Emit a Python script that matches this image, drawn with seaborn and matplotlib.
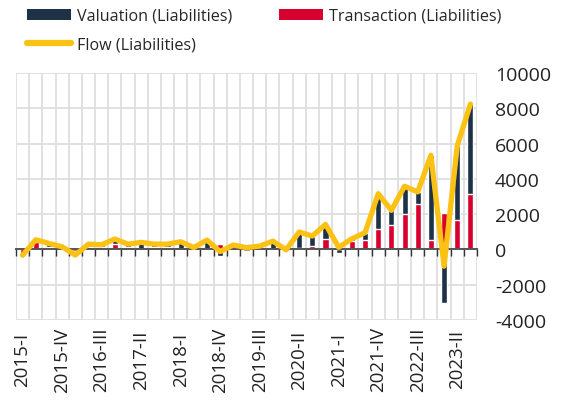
import numpy as np
import pandas as pd
import matplotlib
matplotlib.use("Agg")
import matplotlib.pyplot as plt
import seaborn as sns
from matplotlib.patches import Patch
from matplotlib.lines import Line2D

quarters = [
    "2015-I", "2015-II", "2015-III", "2015-IV",
    "2016-I", "2016-II", "2016-III", "2016-IV",
    "2017-I", "2017-II", "2017-III", "2017-IV",
    "2018-I", "2018-II", "2018-III", "2018-IV",
    "2019-I", "2019-II", "2019-III", "2019-IV",
    "2020-I", "2020-II", "2020-III", "2020-IV",
    "2021-I", "2021-II", "2021-III", "2021-IV",
    "2022-I", "2022-II", "2022-III", "2022-IV",
    "2023-I", "2023-II", "2023-III",
]
valuation = [-150, 150, 190, 70, -210, 150, 155, 290, 190, 350, 190, 190,
             405, 80, 490, -400, 170, -80, 130, 420, -100, 890, 570, 820,
             -230, 150, 400, 2025, 835, 1550, 665, 4830, -3030, 4205, 5095]
transaction = [-180, 400, 150, 80, -110, 150, 110, 300, 110, 50, 110, 110,
               30, 30, 40, 280, 80, 180, 60, 50, 80, 95, 190, 600,
               350, 455, 550, 1135, 1380, 2030, 2595, 510, 2080, 1665, 3145]
flow = [-330, 550, 340, 150, -320, 300, 265, 590, 300, 400, 300, 300,
        435, 110, 530, -120, 250, 100, 190, 470, -20, 985, 760, 1420,
        120, 605, 950, 3160, 2215, 3580, 3260, 5340, -950, 5870, 8240]
y_ticks = [-4000, -2000, 0, 2000, 4000, 6000, 8000, 10000]

NAVY = "#1d3247"
RED = "#d8002f"
YELLOW = "#fbc213"
GRID = "#dedede"

sns.set_theme(style="white")
plt.rcParams["font.family"] = ["Open Sans", "DejaVu Sans"]

W, H = 563, 406
fig = plt.figure(figsize=(W / 100, H / 100), dpi=100)
ax = fig.add_axes([16 / W, 85 / H, 461 / W, 247 / H])

df = pd.DataFrame({"quarter": quarters, "valuation": valuation,
                   "transaction": transaction, "flow": flow})
same = np.sign(df["valuation"]) == np.sign(df["transaction"])
df["val_top"] = np.where(same, df["valuation"] + df["transaction"], df["valuation"])
df["pos"] = np.arange(len(df))

sns.barplot(data=df, x="pos", y="val_top", color=NAVY, width=0.46,
            saturation=1, ax=ax, zorder=2, native_scale=True)
sns.barplot(data=df, x="pos", y="transaction", color=RED, width=0.46,
            saturation=1, ax=ax, zorder=2, native_scale=True)
sns.lineplot(data=df, x="pos", y="flow", color=YELLOW, lw=3.8, ax=ax,
             zorder=5, sort=False)

n = len(quarters)
ax.set_xlim(-0.5, n - 0.5)
ax.set_ylim(y_ticks[0], y_ticks[-1])

# vertical grid at category boundaries
ax.vlines(np.arange(-0.5, n, 1), y_ticks[0], y_ticks[-1], colors=GRID,
          lw=1.3, zorder=1)

ax.set_xticks(range(0, n, 3))
ax.set_xticklabels(quarters[::3], rotation=90, va="center", fontsize=13.5,
                   color="#222222")
ax.set_yticks(y_ticks)
ax.set_yticklabels([str(v) for v in y_ticks], fontsize=14, color="#222222")
ax.yaxis.tick_right()
ax.tick_params(axis="y", length=0, pad=13)
ax.tick_params(axis="x", which="both", length=0, pad=28)
ax.grid(False)
ax.grid(which="major", axis="y", color=GRID, lw=1.3, zorder=0)
ax.set_axisbelow(True)
for s in ax.spines.values():
    s.set_visible(False)
ax.set_xlabel("")
ax.set_ylabel("")

# zero axis line with category boundary ticks
zero_pos = (0 - y_ticks[0]) / (y_ticks[-1] - y_ticks[0])
sec = ax.secondary_xaxis(zero_pos)
sec.set_xticks(np.arange(-0.5, n, 1))
sec.set_xticklabels([])
sec.tick_params(axis="x", length=5, width=1, color="#333333", direction="out")
sec.spines["bottom"].set_color("#555555")
sec.spines["bottom"].set_linewidth(1.4)
sec.set_zorder(3)

handles = [Patch(facecolor=NAVY, edgecolor="none"),
           Line2D([0], [0], color=YELLOW, lw=4.5, solid_capstyle="round"),
           Patch(facecolor=RED, edgecolor="none")]
labels = ["Valuation (Liabilities)", "Flow (Liabilities)", "Transaction (Liabilities)"]
fig.legend(handles, labels, ncol=2, loc="upper left",
           bbox_to_anchor=(27 / W, 1 - 9 / H), frameon=False,
           fontsize=11.6, handlelength=2.73, handleheight=0.65,
           handletextpad=0.37, columnspacing=2.92, labelspacing=0.8,
           borderpad=0, borderaxespad=0)

fig.savefig("out.png", dpi=100)
